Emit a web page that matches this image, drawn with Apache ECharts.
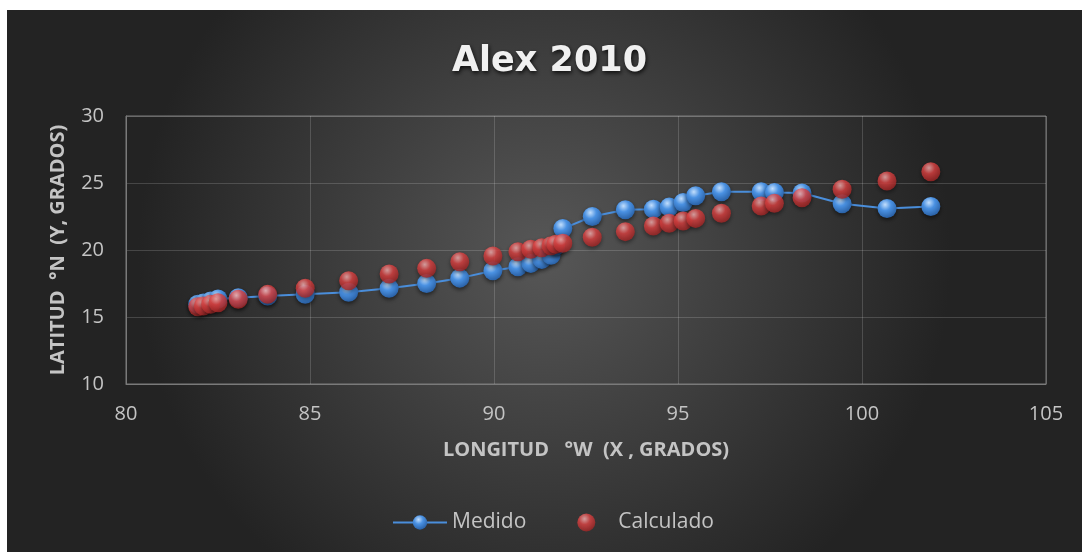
<!DOCTYPE html>
<html>
<head>
<meta charset="utf-8">
<script src="https://cdn.jsdelivr.net/npm/echarts@6/dist/echarts.min.js"></script>
<style>
  html, body { margin: 0; padding: 0; background: #ffffff; }
  #chart { position: absolute; left: 7px; top: 10px; width: 1075px; height: 542px; }
</style>
</head>
<body>
<div id="chart"></div>
<script>
// Data
const longitud = [81.95, 82.1, 82.3, 82.5, 83.05, 83.85, 84.87, 86.05, 87.15, 88.17, 89.07, 89.97, 90.65, 91.0, 91.3, 91.55, 91.68, 91.87, 92.67, 93.57, 94.33, 94.76, 95.14, 95.48, 96.18, 97.26, 97.62, 98.37, 99.46, 100.68, 101.87];
const medidoLat = [15.95, 16.05, 16.2, 16.35, 16.44, 16.57, 16.7, 16.85, 17.15, 17.5, 17.9, 18.45, 18.75, 19.0, 19.3, 19.6, 20.3, 21.6, 22.5, 23.0, 23.05, 23.2, 23.55, 24.05, 24.35, 24.35, 24.3, 24.25, 23.45, 23.1, 23.25];
const calculadoLat = [15.77, 15.82, 15.95, 16.07, 16.32, 16.69, 17.14, 17.71, 18.21, 18.63, 19.13, 19.55, 19.87, 20.05, 20.17, 20.32, 20.42, 20.5, 20.95, 21.37, 21.79, 21.99, 22.16, 22.36, 22.74, 23.28, 23.48, 23.9, 24.53, 25.15, 25.84];
const seriesNames = ['Medido', 'Calculado'];
const titleText = 'Alex 2010';
const xAxisName = 'LONGITUD   °W  (X , GRADOS)';
const yAxisName = 'LATITUD  °N  (Y, GRADOS)';

const medidoData = longitud.map((x, i) => [x, medidoLat[i]]);
const calculadoData = longitud.map((x, i) => [x, calculadoLat[i]]);

function sphere(light, base, dark) {
  return {
    type: 'radial', x: 0.4, y: 0.3, r: 0.78,
    colorStops: [
      { offset: 0, color: light },
      { offset: 0.4, color: base },
      { offset: 1, color: dark }
    ]
  };
}
const blueFill = sphere('#c2defc', '#4a91e2', '#24589a');
const redFill = sphere('#fbb8b8', '#e04444', '#952020');

const labelColor = '#c4c4c4';
const chart = echarts.init(document.getElementById('chart'), null, { renderer: 'canvas' });
chart.setOption({
  backgroundColor: {
    type: 'radial', x: 0.5, y: 0.45, r: 0.75,
    colorStops: [
      { offset: 0, color: '#575757' },
      { offset: 1, color: '#232323' }
    ]
  },
  animation: false,
  title: {
    text: titleText,
    left: 440,
    top: 29,
    textStyle: {
      color: '#f0f0f0',
      fontFamily: 'DejaVu Sans',
      fontWeight: 'bold',
      fontSize: 35,
      textShadowColor: 'rgba(0,0,0,0.8)',
      textShadowBlur: 4,
      textShadowOffsetX: 1,
      textShadowOffsetY: 2
    }
  },
  grid: { left: 119, top: 106, right: 36, bottom: 168, show: true, borderColor: '#7a7a7a', borderWidth: 1 },
  xAxis: {
    type: 'value', min: 80, max: 105, interval: 5,
    name: xAxisName, nameLocation: 'middle', nameGap: 56,
    nameTextStyle: { color: labelColor, fontFamily: 'Open Sans', fontWeight: 'bold', fontSize: 20 },
    axisLine: { show: true, lineStyle: { color: '#7a7a7a', width: 1 } },
    axisTick: { show: false },
    axisLabel: { color: labelColor, fontFamily: 'Open Sans', fontSize: 20, margin: 20 },
    splitLine: { show: true, lineStyle: { color: 'rgba(255,255,255,0.16)', width: 1 } }
  },
  yAxis: {
    type: 'value', min: 10, max: 30, interval: 5,
    name: yAxisName, nameLocation: 'middle', nameGap: 58, nameRotate: 90,
    nameTextStyle: { color: labelColor, fontFamily: 'Open Sans', fontWeight: 'bold', fontSize: 20 },
    axisLine: { show: true, lineStyle: { color: '#7a7a7a', width: 1 } },
    axisTick: { show: false },
    axisLabel: { color: labelColor, fontFamily: 'Open Sans', fontSize: 20, margin: 22 },
    splitLine: { show: true, lineStyle: { color: 'rgba(255,255,255,0.16)', width: 1 } }
  },
  legend: {
    bottom: 14,
    left: 380,
    itemWidth: 54,
    itemHeight: 18,
    itemGap: 51,
    textStyle: { color: labelColor, fontFamily: 'Open Sans', fontSize: 21 },
    data: [
      { name: seriesNames[0] },
      { name: seriesNames[1], icon: 'circle' }
    ]
  },
  series: [
    {
      name: seriesNames[0],
      type: 'line',
      data: medidoData,
      symbol: 'circle',
      symbolSize: 19,
      showAllSymbol: true,
      lineStyle: { color: '#4a8edb', width: 2 },
      itemStyle: { color: blueFill, shadowColor: 'rgba(0,0,0,0.55)', shadowBlur: 4, shadowOffsetY: 2 },
      z: 2
    },
    {
      name: seriesNames[1],
      type: 'scatter',
      data: calculadoData,
      symbol: 'circle',
      symbolSize: 19,
      itemStyle: { color: redFill, shadowColor: 'rgba(0,0,0,0.55)', shadowBlur: 4, shadowOffsetY: 2 },
      z: 3
    }
  ]
});
</script>
</body>
</html>
